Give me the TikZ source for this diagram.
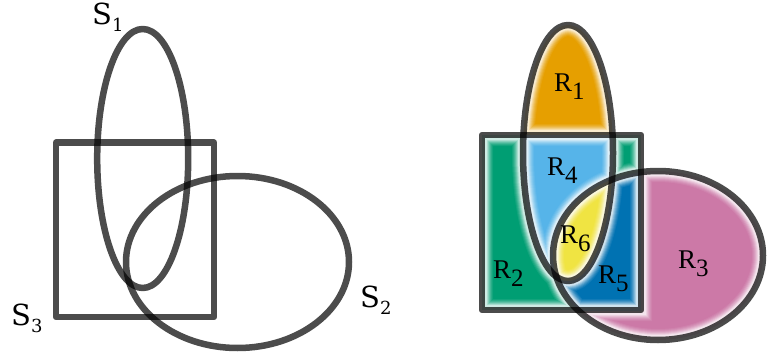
\documentclass[tikz,border=0pt]{standalone}
\usepackage{fontspec}
\newfontfamily\setfont{DejaVu Serif}
\newfontfamily\regfont{Liberation Serif}
\definecolor{orangeR}{HTML}{E69F00}
\definecolor{greenR}{HTML}{009E73}
\definecolor{pinkR}{HTML}{CC79A7}
\definecolor{skyR}{HTML}{56B4E9}
\definecolor{blueR}{HTML}{0072B2}
\definecolor{yellowR}{HTML}{F0E442}
\tikzset{
  outline/.style = {draw=black, draw opacity=0.7, line width=6.5pt, line join=round},
  setlabel/.style = {anchor=base west, inner sep=0pt, font=\setfont\fontsize{29}{30}\selectfont},
  reglabel/.style = {anchor=base west, inner sep=0pt, font=\regfont\fontsize{27}{28}\selectfont}
}
\newcommand{\setname}[1]{S\raisebox{-7pt}{\fontsize{18}{18}\selectfont #1}}
\newcommand{\regname}[1]{R\raisebox{-8pt}{\fontsize{25}{25}\selectfont #1}}
\begin{document}
\begin{tikzpicture}[x=1pt, y=-1pt]
     \useasboundingbox (0,0) rectangle (768,353);
     % plain sets
     \draw[outline] (56,142.7) rectangle (214,317);
     \draw[outline] (142.7,158.5) ellipse [x radius=45.5, y radius=129.5];
     \draw[outline] (237.5,262) ellipse [x radius=111.5, y radius=86];
     \node[setlabel] (s1) at (92,25) {\setname{1}};
     \node[setlabel] (s2) at (360,307) {\setname{2}};
     \node[setlabel] (s3) at (11,325) {\setname{3}};

     % coloured regions
     \def\ovalS{(568,153) ellipse [x radius=45, y radius=128]}
     \def\boxS{(482,135) rectangle (641,310)}
     \def\eggS{(658,255.5) ellipse [x radius=105, y radius=84.5]}
     \fill[pinkR] \eggS;
     \fill[greenR] \boxS;
     \begin{scope} \clip \boxS; \fill[blueR] \eggS; \end{scope}
     \fill[orangeR] \ovalS;
     \begin{scope} \clip \boxS; \fill[skyR] \ovalS; \end{scope}
     \begin{scope} \clip \eggS; \fill[yellowR] \ovalS; \end{scope}
     % soft white edges
     \foreach \w/\o in {22/0.07, 20/0.09, 18/0.12, 16/0.16, 14/0.22, 12/0.3, 10/0.45}
       \draw[white, line width=\w pt, opacity=\o] \ovalS \boxS \eggS;
     \draw[outline] \boxS;
     \draw[outline] \ovalS;
     \draw[outline] \eggS;
     \node[reglabel] (r1) at (554,92) {\regname{1}};
     \node[reglabel] (r2) at (493,278) {\regname{2}};
     \node[reglabel] (r3) at (678,268) {\regname{3}};
     \node[reglabel] (r4) at (547,175) {\regname{4}};
     \node[reglabel] (r5) at (598,283) {\regname{5}};
     \node[reglabel] (r6) at (560,243) {\regname{6}};
\end{tikzpicture}
\end{document}
